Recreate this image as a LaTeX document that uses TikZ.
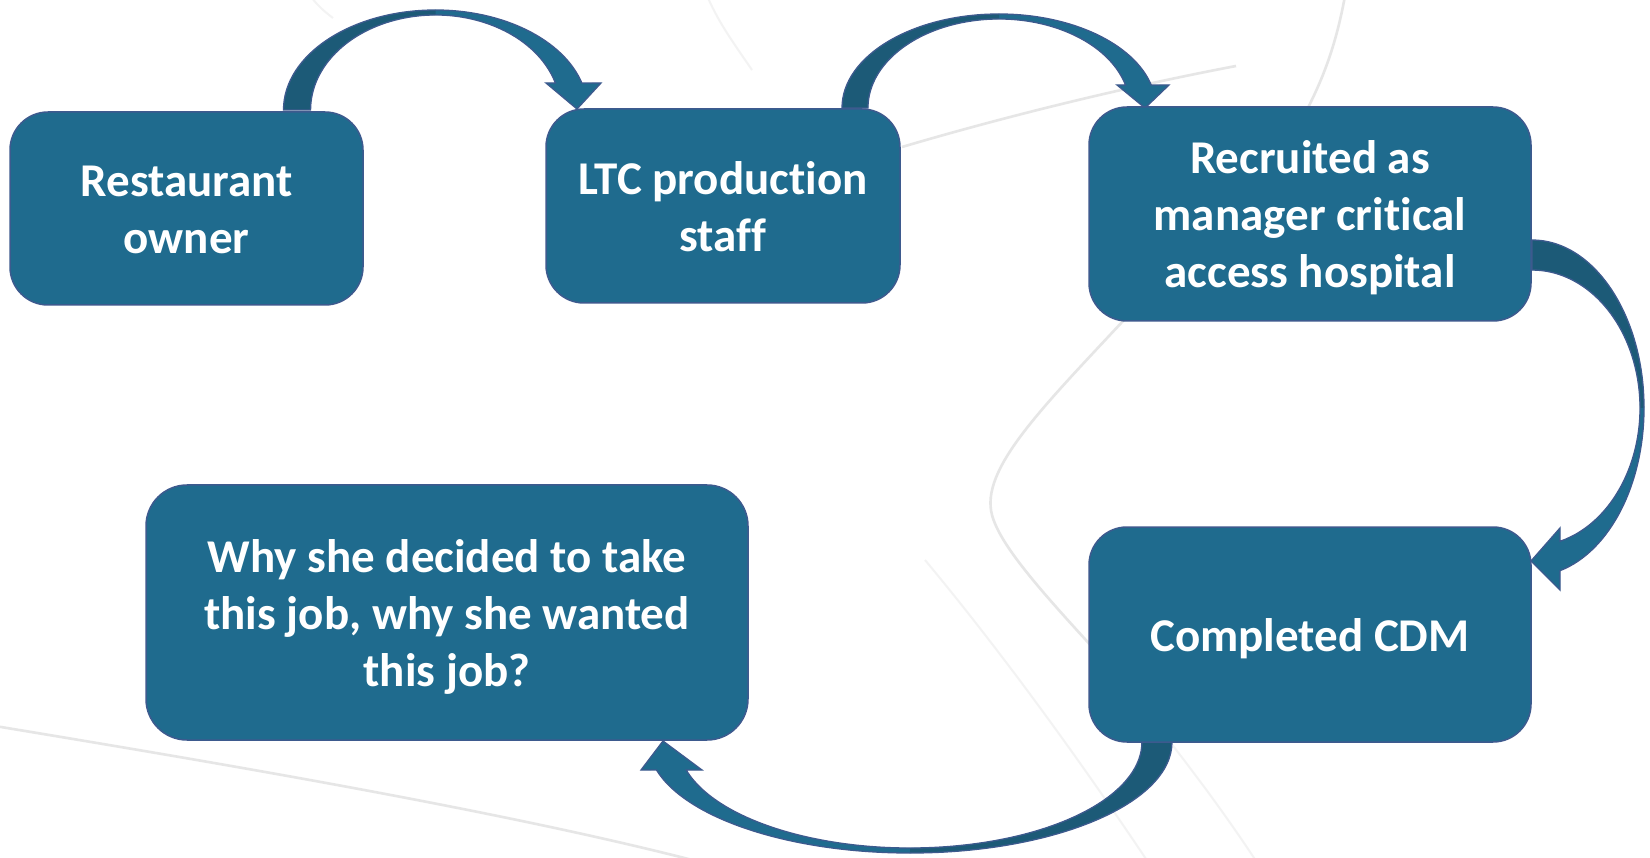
\documentclass[tikz,border=0pt]{standalone}
\usepackage{fontspec}
\setmainfont{Carlito}[Ligatures={NoCommon,NoRequired,NoContextual}]
\definecolor{boxblue}{HTML}{1F6B8E}
\definecolor{backblue}{HTML}{1C5A77}
\definecolor{edgeblue}{HTML}{3D5A8E}
\definecolor{swoosh}{HTML}{E6E6E6}
\definecolor{swooshfaint}{HTML}{F3F3F3}
% centred block of lines for a stage box, set a little below the middle
\newcommand{\stagetext}[1]{\raisebox{0pt}[\dimexpr\height+11pt\relax][\depth]{\begin{tabular}{@{}c@{}}#1\end{tabular}}}
\begin{document}
\begin{tikzpicture}[x=1pt,y=-1pt,
  stage/.style={draw=edgeblue, line width=1.5pt, fill=boxblue,
    rounded corners=38pt, text=white, align=center, inner sep=0pt,
    font=\bfseries\fontsize{47}{57}\selectfont},
  bandfront/.style={fill=boxblue},
  bandback/.style={fill=backblue},
  bandedge/.style={draw=edgeblue, line width=1.3pt, line join=miter},
  bgline/.style={draw=swoosh, line width=2.6pt},
  bgfaint/.style={draw=swooshfaint, line width=2pt}]

% canvas
\useasboundingbox (0,0) rectangle (1650,858);
\fill[white] (0,0) rectangle (1650,858);
\clip (0,0) rectangle (1650,858);

% background swooshes
\draw[bgline] (-5,726) .. controls (200,760) and (500,810) .. (700,862);
\draw[bgline] (902,147) .. controls (1000,118) and (1120,88) .. (1236,66);
\draw[bgline] (1345,-4) .. controls (1335,50) and (1320,90) .. (1290,140)
  .. controls (1230,230) and (1170,270) .. (1123,321)
  .. controls (1040,410) and (980,470) .. (992,515)
  .. controls (1000,545) and (1040,590) .. (1095,650);
\draw[bgfaint] (1095,650) .. controls (1150,715) and (1210,790) .. (1262,870);
\draw[bgfaint] (925,560) .. controls (1000,650) and (1080,760) .. (1150,865);
\draw[bgfaint] (708,-2) .. controls (720,25) and (735,45) .. (752,70);
\draw[bgfaint] (312,-2) .. controls (318,6) and (325,12) .. (333,18);

% curved block arrows: outline path, darker back half, outline on top
% Restaurant owner -> LTC production staff
\path[save path=\arrowOne] (283.5,110)
  arc[start angle=180, end angle=344.34, x radius=152, y radius=100]
  -- (601,83) -- (577,109) -- (546,83) -- (555.4,83)
  arc[start angle=343.49, end angle=180, x radius=125, y radius=95] -- cycle;
\fill[bandfront, use path=\arrowOne];
\fill[bandback] (283.5,110)
  arc[start angle=180, end angle=270, x radius=152, y radius=100]
  -- (435.5,15)
  arc[start angle=270, end angle=180, x radius=125, y radius=95] -- cycle;
\draw[bandedge, use path=\arrowOne];

% LTC production staff -> Recruited
\path[save path=\arrowTwo] (842,108)
  arc[start angle=180, end angle=345.84, x radius=157, y radius=94]
  -- (1169,85) -- (1145,108) -- (1117,85) -- (1125.5,85)
  arc[start angle=345.02, end angle=180, x radius=131, y radius=89] -- cycle;
\fill[bandfront, use path=\arrowTwo];
\fill[bandback] (842,108)
  arc[start angle=180, end angle=270, x radius=157, y radius=94]
  -- (999,19)
  arc[start angle=270, end angle=180, x radius=131, y radius=89] -- cycle;
\draw[bandedge, use path=\arrowTwo];

% Recruited -> Completed CDM
\path[save path=\arrowThree] (1532,240)
  arc[start angle=270, end angle=435.52, x radius=112, y radius=168]
  -- (1560,590) -- (1531,561) -- (1560,528) -- (1560,541.3)
  arc[start angle=434.97, end angle=270, x radius=108, y radius=138] -- cycle;
\fill[bandfront, use path=\arrowThree];
\fill[bandback] (1532,240)
  arc[start angle=270, end angle=360, x radius=112, y radius=168]
  -- (1640,408)
  arc[start angle=360, end angle=270, x radius=108, y radius=138] -- cycle;
\draw[bandedge, use path=\arrowThree];

% Completed CDM -> question box
\path[save path=\arrowFour] (1172,742)
  arc[start angle=0, end angle=165.39, x radius=262, y radius=111]
  -- (641,770) -- (663,741) -- (702,770) -- (686.2,770)
  arc[start angle=164.68, end angle=0, x radius=232, y radius=106] -- cycle;
\fill[bandfront, use path=\arrowFour];
\fill[bandback] (1172,742)
  arc[start angle=0, end angle=90, x radius=262, y radius=111]
  -- (910,848)
  arc[start angle=90, end angle=0, x radius=232, y radius=106] -- cycle;
\draw[bandedge, use path=\arrowFour];

% stages
\node[stage, minimum width=353pt, minimum height=193pt] (owner)
  at (186.5,208.5) {\stagetext{Restaurant\\owner}};
\node[stage, minimum width=354pt, minimum height=194pt] (ltc)
  at (723,206) {\stagetext{LTC production\\staff}};
\node[stage, minimum width=442pt, minimum height=214pt] (recruit)
  at (1310,214) {\stagetext{Recruited as\\manager critical\\access hospital}};
\node[stage, minimum width=442pt, minimum height=215pt] (cdm)
  at (1310,634.5) {\stagetext{Completed CDM}};
\node[stage, minimum width=602pt, minimum height=255pt, rounded corners=41pt] (why)
  at (447,612.5) {\stagetext{Why she decided to take\\this job, why she wanted\\this job?}};
\end{tikzpicture}
\end{document}
